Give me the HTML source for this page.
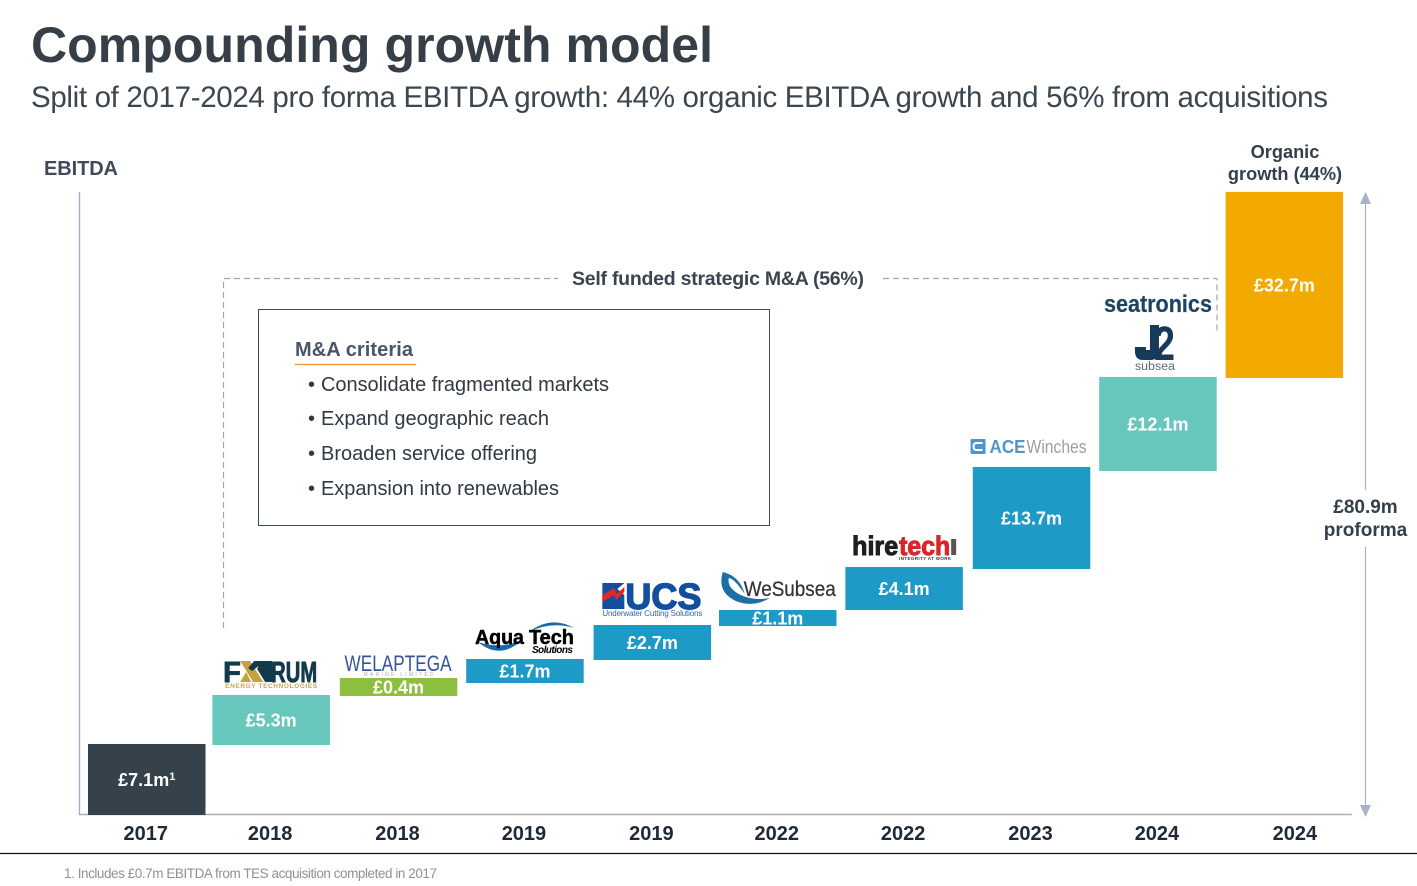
<!DOCTYPE html>
<html lang="en">
<head>
<meta charset="utf-8">
<title>Compounding growth model</title>
<style>
html,body{margin:0;padding:0;background:#fff;}
svg{display:block;font-family:"Liberation Sans",sans-serif;}
</style>
</head>
<body>
<svg id="chart" width="1417" height="886" viewBox="0 0 1417 886" xmlns="http://www.w3.org/2000/svg">
  <text x="31" y="62" font-size="50" font-weight="700" fill="#363f48" textLength="682" lengthAdjust="spacing">Compounding growth model</text>
  <text x="31" y="107" font-size="29.5" fill="#3b4650" textLength="1297" lengthAdjust="spacing">Split of 2017-2024 pro forma EBITDA growth: 44% organic EBITDA growth and 56% from acquisitions</text>

  <text x="44" y="175" font-size="20" font-weight="700" fill="#3f4b5b" textLength="74" lengthAdjust="spacing">EBITDA</text>
  <line x1="79.5" y1="192" x2="79.5" y2="815" stroke="#9fb2c5" stroke-width="1.4"/>
  <line x1="79" y1="814.5" x2="1352" y2="814.5" stroke="#9fb2c5" stroke-width="1.4"/>

  <path d="M223.5 628V278.5H558M883 278.5H1217V332" fill="none" stroke="#a3a6a8" stroke-width="1.2" stroke-dasharray="6 4"/>
  <text x="572" y="285" font-size="19.5" font-weight="700" fill="#3a4552" textLength="292" lengthAdjust="spacing">Self funded strategic M&amp;A (56%)</text>

  <g>
    <rect x="258.5" y="309.5" width="511" height="216" fill="#fff" stroke="#3c4a5e" stroke-width="1"/>
    <text x="295" y="356" font-size="20" font-weight="700" fill="#4a5568" textLength="118" lengthAdjust="spacing">M&amp;A criteria</text>
    <line x1="295" y1="364.5" x2="416" y2="364.5" stroke="#e8932b" stroke-width="1.2"/>
    <g font-size="20" fill="#2f3a44">
      <text x="308" y="391">•</text>
      <text x="321" y="391" textLength="288" lengthAdjust="spacing">Consolidate fragmented markets</text>
      <text x="308" y="425">•</text>
      <text x="321" y="425" textLength="228" lengthAdjust="spacing">Expand geographic reach</text>
      <text x="308" y="460">•</text>
      <text x="321" y="460" textLength="216" lengthAdjust="spacing">Broaden service offering</text>
      <text x="308" y="495">•</text>
      <text x="321" y="495" textLength="238" lengthAdjust="spacing">Expansion into renewables</text>
    </g>
  </g>

  <g id="bars"></g>

  <!-- Logos use local coordinates: origin = bar centre x, bar top y -->
  <g id="logo-1">
    <text x="-48" y="-13" font-size="29" font-weight="700" fill="#123a4d" stroke="#123a4d" stroke-width="0.9">F</text>
    <path d="M-31 -34H-21L-8 -13H-18ZM-31 -13L-25 -23L-20 -13Z" fill="#c4a23c"/>
    <path d="M-17 -34H-6L-19 -24L-23 -27ZM-10 -34H1L2 -13H-6L-14 -26Z" fill="#123a4d"/>
    <text x="0" y="-13" font-size="29" font-weight="700" fill="#123a4d" stroke="#123a4d" stroke-width="0.9" textLength="46" lengthAdjust="spacingAndGlyphs">RUM</text>
    <text x="-46" y="-7" font-size="6.5" font-weight="700" fill="#c4a84a" textLength="92" lengthAdjust="spacing">ENERGY TECHNOLOGIES</text>
  </g>
  <g id="logo-2">
    <text x="-54" y="-7" font-size="22" fill="#34549c" textLength="107" lengthAdjust="spacingAndGlyphs">WELAPTEGA</text>
    <text x="-35" y="-2" font-size="5" fill="#a9adb3" textLength="70" lengthAdjust="spacing">MARINE LIMITED</text>
  </g>
  <g id="logo-3">
    <path d="M-47 -17Q-24 2 -2 -20Q-22 -9 -47 -17Z" fill="#1c67a8"/>
    <path d="M4 -27Q26 -44 49 -31Q26 -38 4 -27Z" fill="#1c67a8"/>
    <text x="-50" y="-15" font-size="20" font-weight="700" fill="#000" stroke="#000" stroke-width="0.5" textLength="49" lengthAdjust="spacingAndGlyphs">Aqua</text>
    <text x="4" y="-15" font-size="20" font-weight="700" fill="#000" stroke="#000" stroke-width="0.5" textLength="45" lengthAdjust="spacingAndGlyphs">Tech</text>
    <text x="7" y="-6" font-size="10" font-weight="700" font-style="italic" fill="#000" textLength="41" lengthAdjust="spacing">Solutions</text>
  </g>
  <g id="logo-4">
    <path d="M-50 -42H-28L-35 -36L-28 -30V-16H-50Z" fill="#124f9e"/>
    <path d="M-50 -30L-38 -37L-36 -31L-28 -38V-33L-36 -25L-38 -30L-50 -23Z" fill="#e52528"/>
    <text x="-27" y="-16" font-size="36" font-weight="700" fill="#124f9e" stroke="#124f9e" stroke-width="1.4" textLength="76" lengthAdjust="spacingAndGlyphs">UCS</text>
    <text x="-50" y="-9" font-size="8" fill="#2f66ac" textLength="100" lengthAdjust="spacing">Underwater Cutting Solutions</text>
  </g>
  <g id="logo-5">
    <path d="M-55 -38Q-61 -18 -42 -9Q-24 -2 -8 -12Q-24 -9 -37 -15Q-51 -22 -49 -32Q-44 -32 -33 -16Q-38 -34 -55 -38Z" fill="#1d6fa5"/>
    <text x="-34" y="-14" font-size="21" fill="#333" stroke="#333" stroke-width="0.25" textLength="92" lengthAdjust="spacingAndGlyphs">WeSubsea</text>
  </g>
  <g id="logo-6">
    <text x="-52" y="-12" font-size="27" font-weight="700" fill="#1f1f1f" stroke="#1f1f1f" stroke-width="1" textLength="46" lengthAdjust="spacingAndGlyphs">hire</text>
    <text x="-5" y="-12" font-size="27" font-weight="700" fill="#d9262b" stroke="#d9262b" stroke-width="1" textLength="51" lengthAdjust="spacingAndGlyphs">tech</text>
    <rect x="47" y="-28" width="5" height="16" fill="#555"/>
    <text x="-5" y="-7" font-size="4.5" font-weight="700" fill="#333" textLength="52" lengthAdjust="spacing">INTEGRITY AT WORK</text>
  </g>
  <g id="logo-7">
    <rect x="-61" y="-28" width="15" height="15" rx="1" fill="#4f95cc"/>
    <path d="M-49 -24H-55Q-58 -24 -58 -20.5Q-58 -17 -55 -17H-49" fill="none" stroke="#fff" stroke-width="2"/>
    <text x="-42" y="-14" font-size="18" font-weight="700" fill="#4f95cc" textLength="36" lengthAdjust="spacingAndGlyphs">ACE</text>
    <text x="-5" y="-14" font-size="18" fill="#9aa0a6" textLength="60" lengthAdjust="spacingAndGlyphs">Winches</text>
  </g>
  <g id="logo-8">
    <text x="-54" y="-65" font-size="24" font-weight="700" fill="#1d4560" stroke="#1d4560" stroke-width="0.2" textLength="108" lengthAdjust="spacingAndGlyphs">seatronics</text>
    <path d="M-8 -52H1V-26Q1 -17 -8 -17H-15Q-23 -17 -23 -26V-30H-12V-27H-8Z" fill="#17395a"/>
    <text x="-4" y="-17" font-size="48" font-weight="700" fill="#17395a" textLength="21" lengthAdjust="spacingAndGlyphs">2</text>
    <text x="-23" y="-7" font-size="11.5" fill="#5d6b78" textLength="40" lengthAdjust="spacingAndGlyphs">subsea</text>
  </g>

  <g text-anchor="middle" font-size="18.2" font-weight="700" fill="#333f4d">
    <text x="1285" y="158">Organic</text>
    <text x="1285" y="180">growth (44%)</text>
  </g>

  <g>
    <line x1="1365.5" y1="200" x2="1365.5" y2="490" stroke="#a6b4c4" stroke-width="1.2"/>
    <line x1="1365.5" y1="547" x2="1365.5" y2="808" stroke="#a6b4c4" stroke-width="1.2"/>
    <path d="M1365.5 192L1371 204H1360Z" fill="#a6b4c4"/>
    <path d="M1365.5 817L1371 805H1360Z" fill="#a6b4c4"/>
    <text x="1365.5" y="513" text-anchor="middle" font-size="19" font-weight="700" fill="#333f4d">£80.9m</text>
    <text x="1365.5" y="536" text-anchor="middle" font-size="19" font-weight="700" fill="#333f4d">proforma</text>
  </g>

  <g id="x-ticks"></g>

  <line x1="0" y1="853.5" x2="1417" y2="853.5" stroke="#111" stroke-width="1.2"/>
  <text x="64" y="878" font-size="13.5" fill="#8d9196" textLength="373" lengthAdjust="spacing">1. Includes £0.7m EBITDA from TES acquisition completed in 2017</text>

<script>
// Chart data
const categories = ['2017', '2018', '2018', '2019', '2019', '2022', '2022', '2023', '2024', '2024'];
const values = [7.1, 5.3, 0.4, 1.7, 2.7, 1.1, 4.1, 13.7, 12.1, 32.7];
const valueNotes = ['1', '', '', '', '', '', '', '', '', ''];
// The slide's bars are schematic, so each drawn height is value × this factor
const schematicStretch = [1.299, 1.225, 5.84, 1.833, 1.683, 1.889, 1.362, 0.967, 1.009, 0.739];
// How far (in £m axis units) each bar overlaps the top of the previous one
const stepOverlap = [0, 0.13, 0.13, 0.65, 0.13, 0.13, 0, 0.26, 0.52, 0.13];
const barKinds = ['base', 'acqTeal', 'acqGreen', 'acqBlue', 'acqBlue', 'acqBlue', 'acqBlue', 'acqBlue', 'acqTeal', 'organic'];
const axisMax = 80.9;

const kindColors = { base: '#36424b', acqTeal: '#68c7bd', acqGreen: '#8dbf3f', acqBlue: '#1e9ac6', organic: '#f2a900' };
const NS = 'http://www.w3.org/2000/svg';
const plotBottom = 815;
const plotTop = 192;
const barWidth = 117.5;

function yScale(v) {
  return plotBottom - (v / axisMax) * (plotBottom - plotTop);
}
function xScale(i) {
  const nudge = i === 1 ? -2 : ((i === 2 || i === 3 || i === 5 || i === 6) ? -1 : 0);
  return 88 + i * 126.4 + nudge;
}

const barsLayer = document.getElementById('bars');
const ticksLayer = document.getElementById('x-ticks');
let previousHigh = 0;

values.forEach(function (value, i) {
  const low = i === 0 ? 0 : previousHigh - stepOverlap[i];
  const high = low + value * schematicStretch[i];
  previousHigh = high;
  const top = yScale(high);
  const bottom = yScale(low);
  const x = xScale(i);
  const centre = x + barWidth / 2;

  const rect = document.createElementNS(NS, 'rect');
  rect.setAttribute('x', x);
  rect.setAttribute('y', top);
  rect.setAttribute('width', barWidth);
  rect.setAttribute('height', bottom - top);
  rect.setAttribute('fill', kindColors[barKinds[i]]);
  
  
  barsLayer.appendChild(rect);

  const label = document.createElementNS(NS, 'text');
  label.setAttribute('x', centre);
  label.setAttribute('y', (top + bottom) / 2 + 6.5);
  label.setAttribute('text-anchor', 'middle');
  label.setAttribute('font-size', '18');
  label.setAttribute('font-weight', '700');
  label.setAttribute('fill', '#fff');
  label.textContent = '£' + value.toFixed(1) + 'm';
  if (valueNotes[i]) {
    const note = document.createElementNS(NS, 'tspan');
    note.setAttribute('font-size', '11');
    note.setAttribute('dy', '-6');
    note.textContent = valueNotes[i];
    
    
    label.appendChild(note);
  }
  
  
  barsLayer.appendChild(label);

  const tick = document.createElementNS(NS, 'text');
  tick.setAttribute('x', i === 9 ? centre + 10.5 : centre - 1);
  tick.setAttribute('y', 840);
  tick.setAttribute('text-anchor', 'middle');
  tick.setAttribute('font-size', '20');
  tick.setAttribute('font-weight', '700');
  tick.setAttribute('fill', '#1f2a38');
  tick.textContent = categories[i];
  
  
  ticksLayer.appendChild(tick);

  const logo = document.getElementById('logo-' + i);
  if (logo) {
    logo.setAttribute('transform', 'translate(' + centre + ',' + top + ')');
  }
});
</script>
</svg>
</body>
</html>
